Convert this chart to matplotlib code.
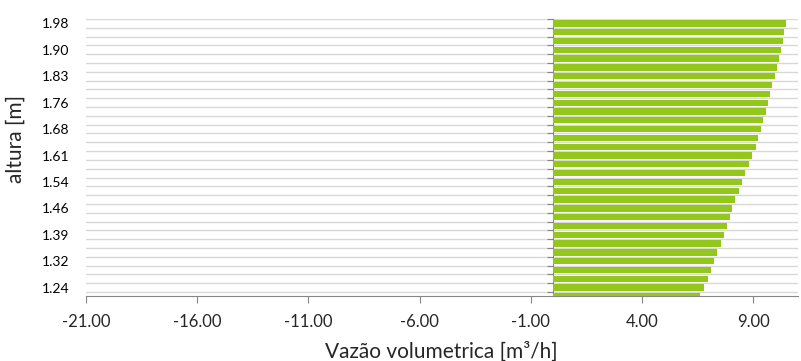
import matplotlib
matplotlib.use("Agg")
import matplotlib.pyplot as plt
import numpy as np

plt.rcParams['font.family'] = ['Lato', 'DejaVu Sans']

# heights, bottom to top (first category at the bottom, like Excel)
altura = [1.22, 1.24, 1.27, 1.29, 1.32, 1.34, 1.37, 1.39, 1.41, 1.44, 1.46,
          1.49, 1.51, 1.54, 1.56, 1.58, 1.61, 1.63, 1.66, 1.68, 1.71, 1.73,
          1.76, 1.78, 1.80, 1.83, 1.85, 1.88, 1.90, 1.93, 1.95, 1.98]
# volumetric flow for each height [m3/h]
vazao = [6.62, 6.80, 6.95, 7.10, 7.25, 7.39, 7.54, 7.67, 7.81, 7.94, 8.07,
         8.20, 8.35, 8.51, 8.65, 8.80, 8.97, 9.13, 9.23, 9.35, 9.46, 9.58,
         9.68, 9.78, 9.87, 9.98, 10.07, 10.16, 10.25, 10.34, 10.41, 10.49]
x_ticks = [-21, -16, -11, -6, -1, 4, 9]
label_every = 3

xmin, xmax = -21, 11
grey = '#868686'

fig = plt.figure(figsize=(8.01, 3.61), dpi=100)
ax = fig.add_axes([86 / 801, 1 - 296 / 361, (797.6 - 86) / 801, (296 - 19) / 361])

pos = np.arange(len(altura))
ax.barh(pos, vazao, height=0.72, color='#93c71c', zorder=3)

ax.set_xlim(xmin, xmax)
ax.set_ylim(0.05, len(altura) - 0.5)

# x axis
ax.set_xticks(x_ticks)
ax.set_xticklabels(['%.2f' % v for v in x_ticks], fontsize=12, color='#262626')
ax.tick_params(axis='x', direction='out', length=5, width=0.8, color=grey, pad=8)

# y axis: labels at bar centres, tick marks / gridlines between bars
lab_idx = list(range(1, len(altura), label_every))
ax.set_yticks(pos[lab_idx])
ax.set_yticklabels(['%.2f' % altura[i] for i in lab_idx], fontsize=12, color='#262626')
bounds = pos[:-1] + 0.5
ax.set_yticks(np.append(bounds, len(altura) - 0.5), minor=True)
ax.yaxis.grid(True, which='minor', color='#d9d9d9', lw=1.0, zorder=0)
ax.tick_params(axis='y', which='minor', direction='out', length=4, width=0.8, color=grey)

ax.spines['left'].set_position(('data', 0))
ax.spines['left'].set_color(grey)
ax.spines['bottom'].set_color(grey)
ax.spines['top'].set_visible(False)
ax.spines['right'].set_visible(False)

# push the category labels back to the left edge of the plot
ax_w_px = (797.6 - 86)
pad_px = (0 - xmin) / (xmax - xmin) * ax_w_px + 17
ax.tick_params(axis='y', which='major', length=0, pad=pad_px * 72 / 100)

ax.set_xlabel('Vazão volumetrica [m³/h]', fontsize=15, color='#262626')
ax.xaxis.set_label_coords(0.5, -0.165)
ax.set_ylabel('altura [m]', fontsize=15, color='#262626')
ax.yaxis.set_label_coords(-0.085, 0.565)

fig.savefig('out.png', dpi=100)
